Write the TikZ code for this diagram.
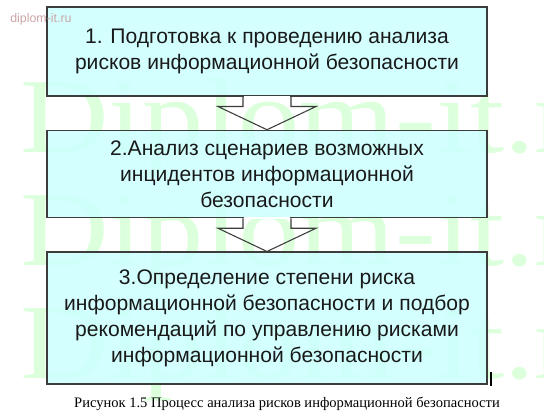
\documentclass[tikz,border=0pt]{standalone}
\usepackage{fontspec}
\setmainfont{Liberation Serif}
\newfontfamily\boxfont{Liberation Sans}
\usetikzlibrary{calc}
\definecolor{boxfill}{RGB}{204,255,255}
\definecolor{boxline}{RGB}{60,60,60}
\definecolor{wmgreen}{RGB}{220,255,220}
\definecolor{wmsmall}{RGB}{205,165,165}
\begin{document}
\begin{tikzpicture}[x=0.75pt,y=-0.75pt,
  stepbox/.style={draw=boxline, line width=0.8pt, fill=boxfill, fill opacity=0.85, text opacity=1,
    minimum width=330pt, inner sep=0pt, align=center,
    font=\boxfont\fontsize{15.8}{19.5}\selectfont, text=black!90},
  arrowline/.style={draw=boxline, line width=0.8pt, line join=miter},
  wm/.style={text=wmgreen, inner sep=0pt, font=\fontsize{80}{80}\selectfont},
]
\useasboundingbox (0,0) rectangle (544,416);
\fill[white] (0,0) rectangle (544,416);
% watermark
\foreach \yy/\nm in {153/w1,266/w2,379/w3}{
  \begin{scope}[shift={(20,\yy)}, xscale=1.15]
    \node[wm, anchor=base west, transform shape] (\nm) at (0,0) {Diplom-it.ru};
  \end{scope}
}
% boxes
\node[stepbox, minimum height=66.75pt] (b1) at (267,51.5)
  {1. Подготовка к проведению анализа\\рисков информационной безопасности};
\node[stepbox, minimum height=65.6pt] (b2) at (267,174)
  {2.Анализ сценариев возможных\\инцидентов информационной\\безопасности};
\node[stepbox, minimum height=99pt] (b3) at (267,318)
  {3.Определение степени риска\\информационной безопасности и подбор\\рекомендаций по управлению рисками\\информационной безопасности};
% arrows
\foreach \a/\b in {b1/b2, b2/b3}{
  \draw[white, line width=1.4pt] ($(\a.south)+(-23.4,0)$) -- ($(\a.south)+(23.4,0)$);
  \draw[arrowline] ($(\a.south)+(-24,0)$) -- ++(0,10) -- ++(-25,0) -- (\b.north)
    -- ($(\a.south)+(49,10)$) -- ++(-25,0) -- ++(0,-10);
}
% small watermark
\node[anchor=base west, inner sep=0pt, text=wmsmall, font=\boxfont\fontsize{9.3}{10}\selectfont] (sm) at (10,23) {diplom-it.ru};
% cursor
\draw[black, line width=1.5pt] (491,372) -- (491,386);
% caption
\node[anchor=base, inner sep=0pt, font=\fontsize{10.9}{12}\selectfont] (cap) at (287,408)
  {Рисунок 1.5 Процесс анализа рисков информационной безопасности};
\end{tikzpicture}
\end{document}
